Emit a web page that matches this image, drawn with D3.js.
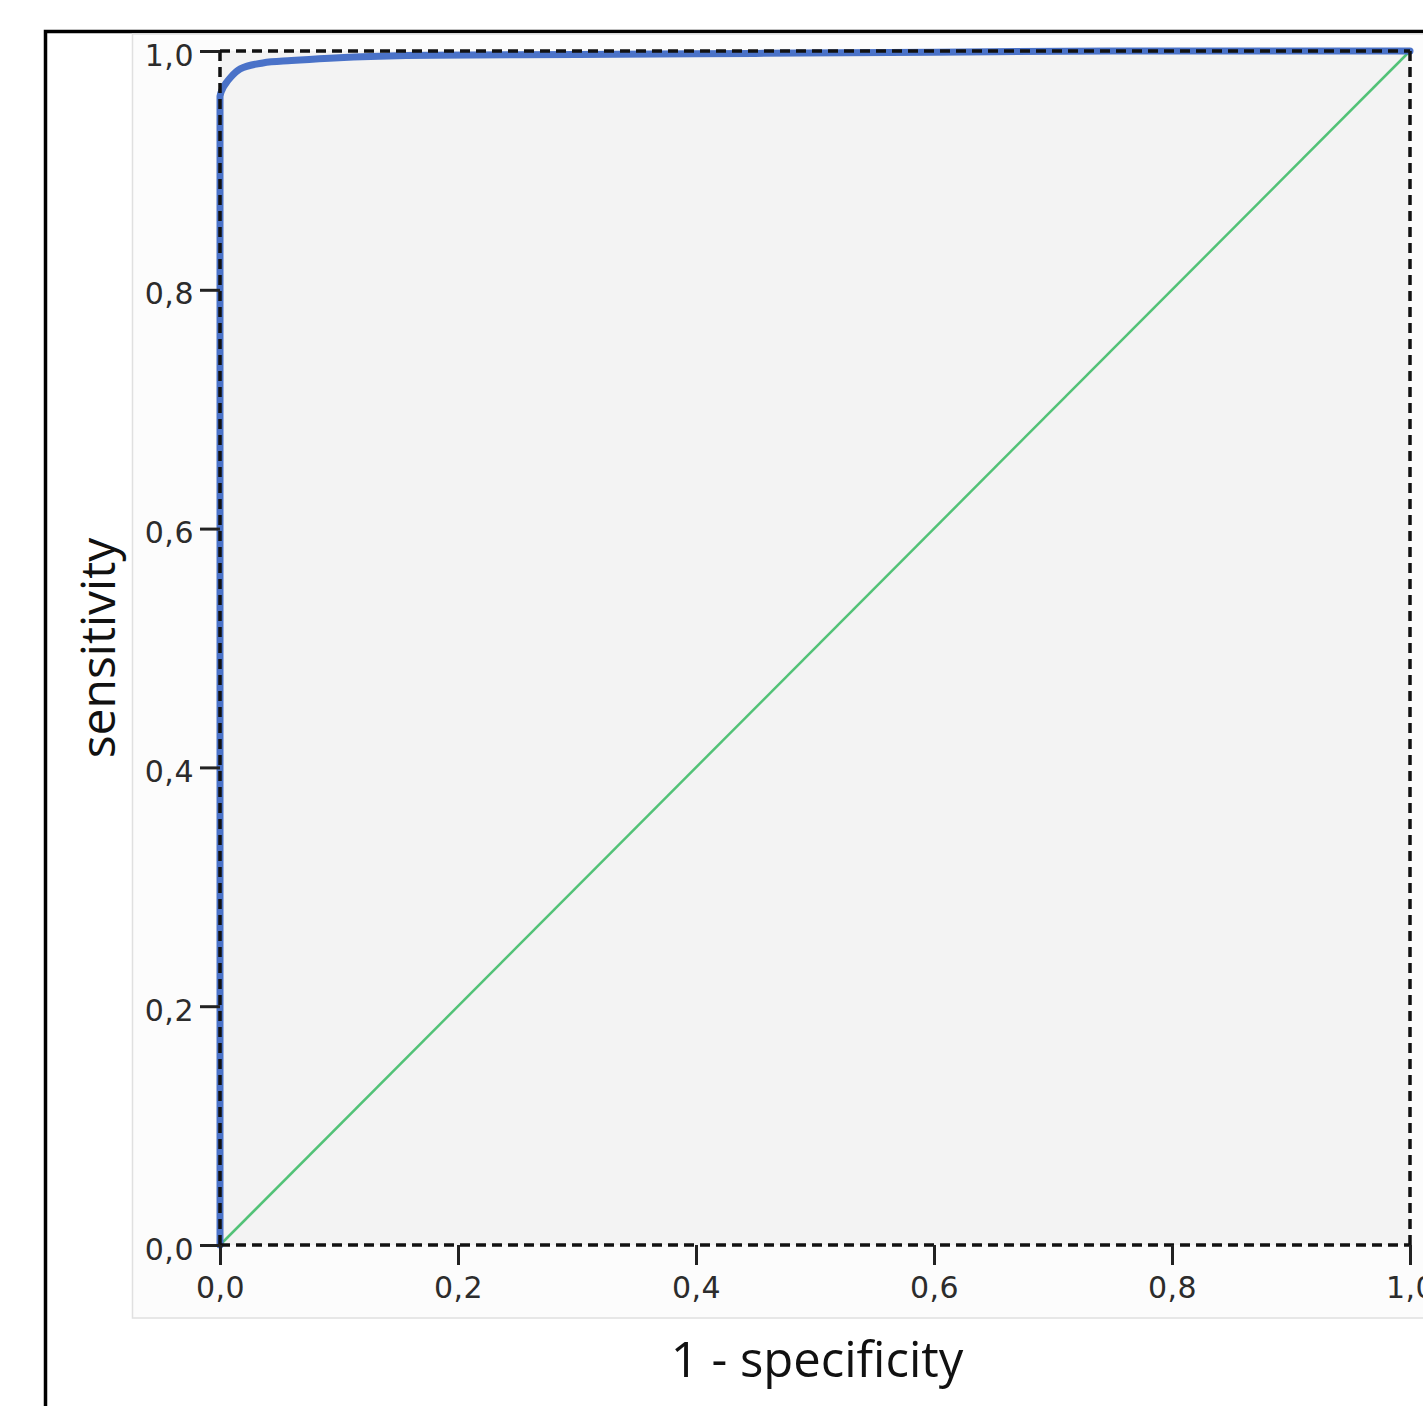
<!DOCTYPE html>
<html>
<head>
<meta charset="utf-8">
<script src="https://cdn.jsdelivr.net/npm/d3@7"></script>
<style>
  html, body { margin: 0; padding: 0; background: #ffffff; overflow: hidden; }
  svg { display: block; }
</style>
</head>
<body>
<svg id="chart" width="1423" height="1406"></svg>
<script>
// ---- data ----
const tickValues = [0, 0.2, 0.4, 0.6, 0.8, 1.0];
const tickLabels = ["0,0", "0,2", "0,4", "0,6", "0,8", "1,0"];
const rocFpr = [0, 0, 0.002, 0.005, 0.009, 0.017, 0.036, 0.06, 0.092, 0.18, 0.30, 0.45, 0.60, 0.75, 1.0];
const rocTpr = [0, 0.962, 0.968, 0.973, 0.978, 0.985, 0.990, 0.992, 0.994, 0.9965, 0.997, 0.998, 0.999, 1.0, 1.0];
const refFpr = [0, 1];
const refTpr = [0, 1];
const xTitle = "1 - specificity";
const yTitle = "sensitivity";

// ---- layout ----
const svg = d3.select("#chart");
const plot = { left: 220, right: 1410, top: 51, bottom: 1245 };
const x = d3.scaleLinear().domain([0, 1]).range([plot.left, plot.right]);
const y = d3.scaleLinear().domain([0, 1]).range([plot.bottom, plot.top]);

// outer black frame
svg.append("rect")
  .attr("x", 45.5).attr("y", 31.5).attr("width", 1500).attr("height", 1500)
  .attr("fill", "#ffffff").attr("stroke", "#000").attr("stroke-width", 3.5);

// chart panel
svg.append("rect")
  .attr("x", 132.5).attr("y", 34).attr("width", 1400).attr("height", 1284)
  .attr("fill", "#fcfcfc").attr("stroke", "#e0e0e0").attr("stroke-width", 1.5);

// plot area background
svg.append("rect")
  .attr("x", x(0)).attr("y", y(1))
  .attr("width", x(1) - x(0)).attr("height", y(0) - y(1))
  .attr("fill", "#f3f3f3");

// reference diagonal
const line = d3.line().x(d => x(d[0])).y(d => y(d[1]));
svg.append("path")
  .datum(d3.zip(refFpr, refTpr))
  .attr("d", line)
  .attr("fill", "none").attr("stroke", "#52c277").attr("stroke-width", 2.5);

// ROC curve
svg.append("path")
  .datum(d3.zip(rocFpr, rocTpr))
  .attr("d", d3.line().x(d => x(d[0])).y(d => y(d[1])).curve(d3.curveMonotoneX))
  .attr("fill", "none").attr("stroke", "#4a72c8").attr("stroke-width", 7)
  .attr("stroke-linejoin", "round").attr("stroke-linecap", "round");

// dashed frame
const frame = svg.append("g").attr("fill", "none").attr("stroke", "#111")
  .attr("stroke-width", 3.5).attr("stroke-dasharray", "10,6");
frame.append("line").attr("x1", x(0)).attr("x2", x(1)).attr("y1", y(1)).attr("y2", y(1));
frame.append("line").attr("x1", x(0)).attr("x2", x(1)).attr("y1", y(0)).attr("y2", y(0));
frame.append("line").attr("x1", x(0)).attr("x2", x(0)).attr("y1", y(0)).attr("y2", y(1));
frame.append("line").attr("x1", x(1)).attr("x2", x(1)).attr("y1", y(0)).attr("y2", y(1));

// axes
const fmt = (d, i) => tickLabels[i];
const yAxis = svg.append("g").attr("transform", `translate(${x(0)},0)`)
  .call(d3.axisLeft(y).tickValues(tickValues).tickFormat(fmt).tickSize(20).tickPadding(8));
const xAxis = svg.append("g").attr("transform", `translate(0,${y(0)})`)
  .call(d3.axisBottom(x).tickValues(tickValues).tickFormat(fmt).tickSize(20).tickPadding(10));

[xAxis, yAxis].forEach(g => {
  g.select(".domain").remove();
  g.selectAll(".tick line").attr("stroke", "#222").attr("stroke-width", 3);
  g.selectAll(".tick text")
    .attr("fill", "#2c2c2c")
    .style("font-family", "'DejaVu Sans', sans-serif")
    .style("font-size", "30px")
    .style("letter-spacing", "0.5px");
});
yAxis.selectAll(".tick text").attr("dy", "14px").attr("x", -26);
xAxis.selectAll(".tick text").attr("dy", "0").attr("y", 53);

// axis titles
svg.append("text")
  .attr("x", (x(0) + x(1)) / 2 + 2).attr("y", 1377)
  .attr("text-anchor", "middle")
  .style("font-family", "'Open Sans', sans-serif").style("font-size", "49px")
  .attr("fill", "#111")
  .text(xTitle);

svg.append("text")
  .attr("transform", `translate(115,${(y(0) + y(1)) / 2}) rotate(-90)`)
  .attr("text-anchor", "middle")
  .style("font-family", "'Open Sans', sans-serif").style("font-size", "48px")
  .attr("fill", "#111")
  .text(yTitle);
</script>
</body>
</html>
